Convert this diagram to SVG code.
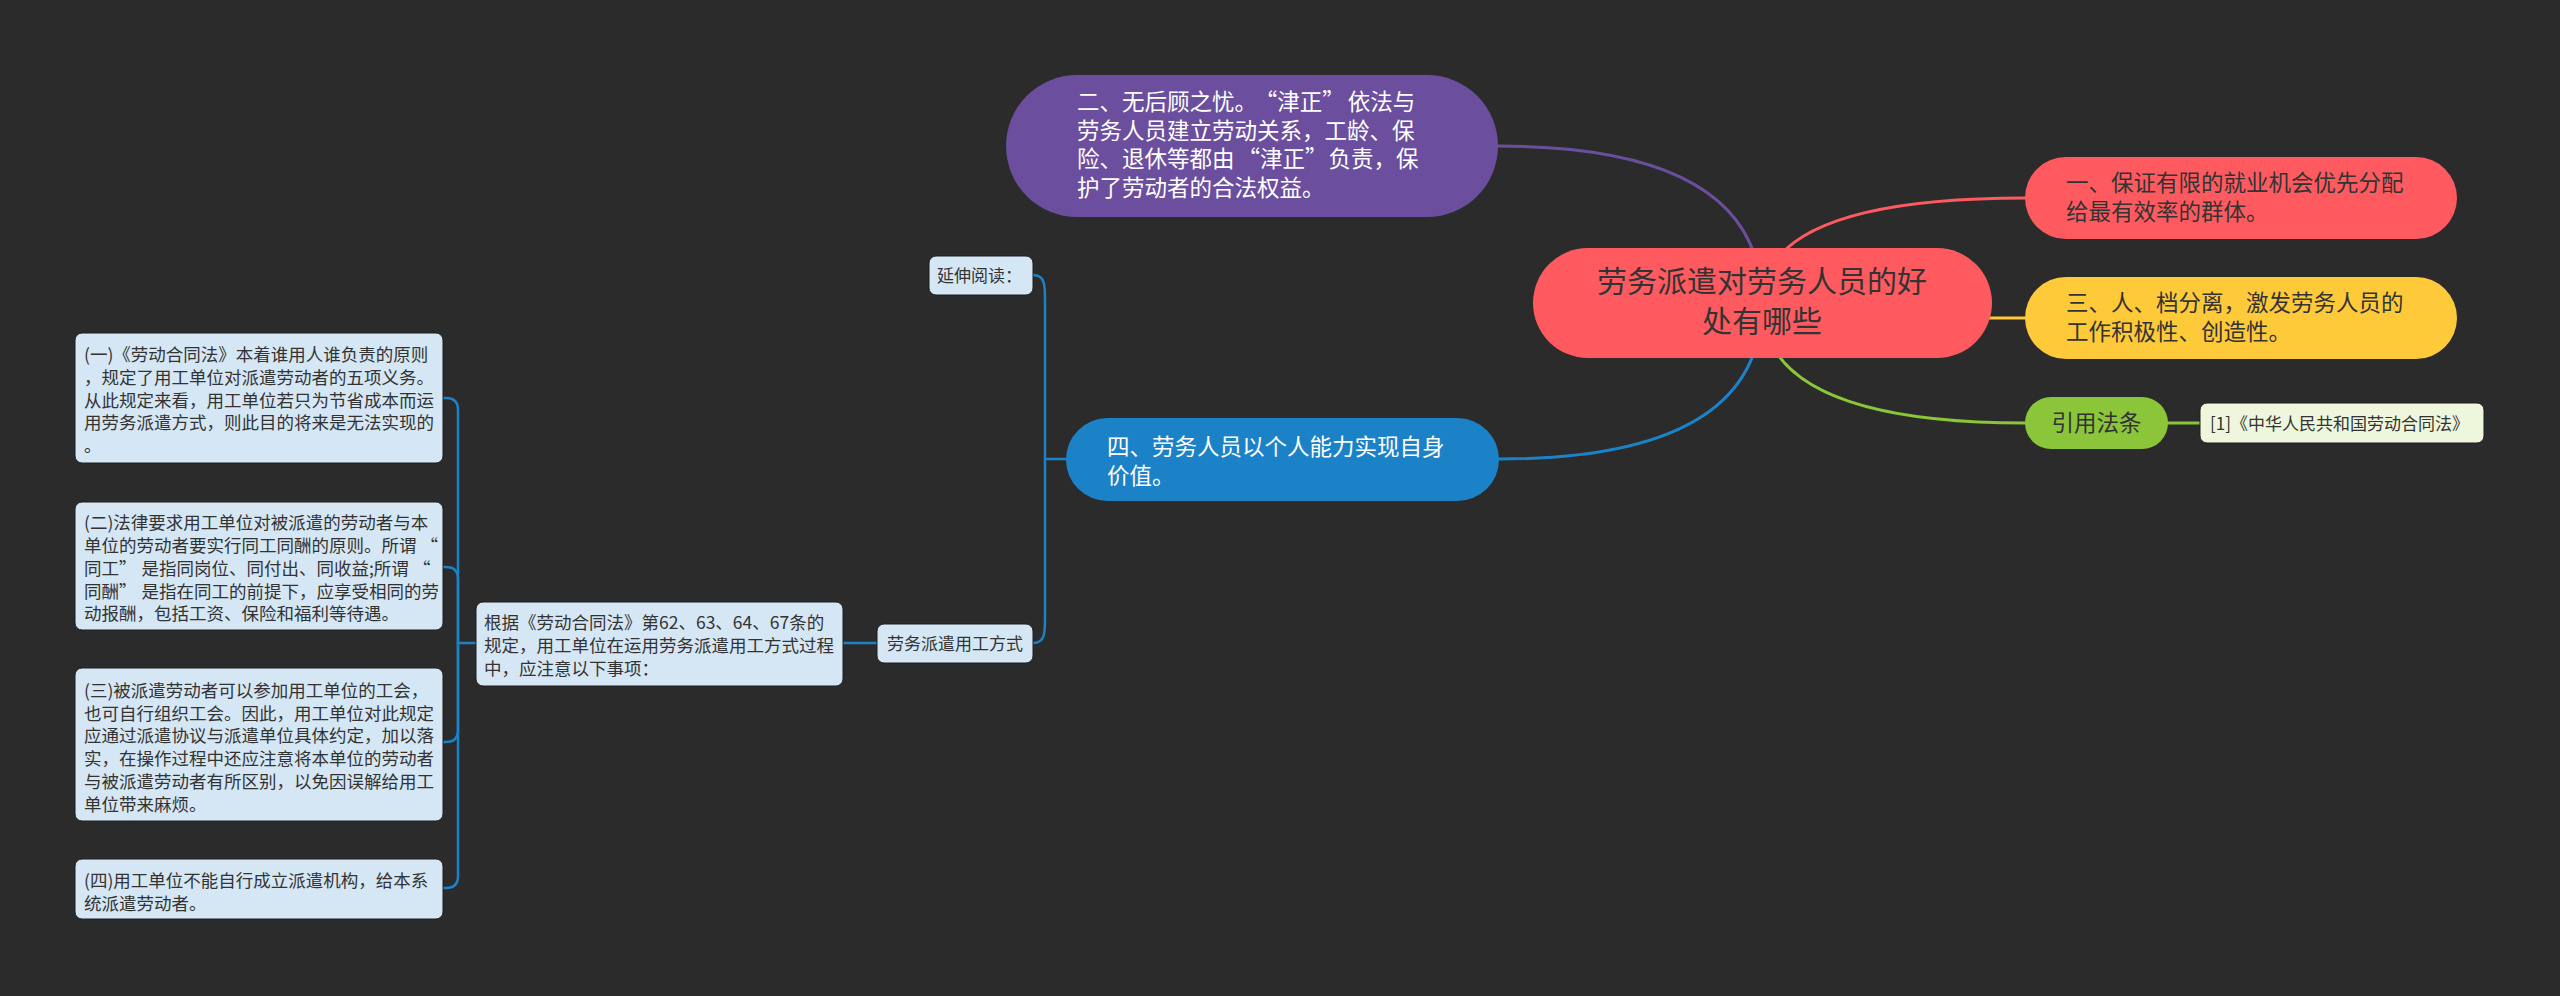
<svg xmlns="http://www.w3.org/2000/svg" width="2560" height="996" viewBox="0 0 2560 996">
<style>
.t{font-family:"Noto Sans CJK SC","Liberation Sans",sans-serif;}
.main{font-size:22.5px;}
.sub{font-size:17.5px;fill:#333333;}
.dark{fill:#333333;}
.white{fill:#ffffff;}
.lb{fill:#d5e7f4;stroke:#1e1e1e;stroke-width:1;}
.c{fill:none;stroke-width:3;stroke-linecap:round;}
.c2{fill:none;stroke-width:2.5;stroke-linecap:round;}
</style>
<rect x="0" y="0" width="2560" height="996" fill="#2b2b2b"/>
<g id="connectors">
  <path class="c" stroke="#6b4f9e" d="M1762 303 Q1762 146 1498 146"/>
  <path class="c" stroke="#ff5a5f" d="M1762 303 Q1762 198 2025 198"/>
  <path class="c" stroke="#ffca3a" d="M1762 303 Q1762 318 2025 318"/>
  <path class="c" stroke="#8ac53a" d="M1762 303 Q1762 423 2025 423"/>
  <path class="c" stroke="#1c82c7" d="M1762 303 Q1762 459 1499 459"/>
  <path class="c" stroke="#8ac53a" d="M2168 423 L2200 423"/>
  <path class="c2" stroke="#1c82c7" d="M1066 459 L1045 459"/>
  <path class="c2" stroke="#1c82c7" d="M1045 459 L1045 300 C1045 285 1045 275 1033 275"/>
  <path class="c2" stroke="#1c82c7" d="M1045 459 L1045 618 C1045 633 1045 643 1033 643"/>
  <path class="c2" stroke="#1c82c7" d="M877 643 L843 643"/>
  <path class="c2" stroke="#1c82c7" d="M476 643 L458 643"/>
  <path class="c2" stroke="#1c82c7" d="M458 643 L458 410 Q458 398 446 398 L443 398"/>
  <path class="c2" stroke="#1c82c7" d="M458 643 L458 579 Q458 567 446 567 L443 567"/>
  <path class="c2" stroke="#1c82c7" d="M458 643 L458 730 Q458 742 446 742 L443 742"/>
  <path class="c2" stroke="#1c82c7" d="M458 643 L458 876 Q458 888 446 888 L443 888"/>
</g>
<g id="root">
  <rect x="1533" y="248" width="459" height="110" rx="55" fill="#ff5a5f"/>
  <text class="t dark" font-size="30" text-anchor="middle"><tspan x="1762" y="292">劳务派遣对劳务人员的好</tspan><tspan x="1762" y="332">处有哪些</tspan></text>
</g>
<g id="n-er">
  <rect x="1006" y="75" width="492" height="142" rx="71" fill="#6b4f9e"/>
  <text class="t main white"><tspan x="1077" y="110">二、无后顾之忧。<tspan dx="9">“津正”</tspan><tspan dx="3">依法与</tspan></tspan><tspan x="1077" y="139">劳务人员建立劳动关系，工龄、保</tspan><tspan x="1077" y="167">险、退休等都由<tspan dx="3">“津正”</tspan><tspan dx="1">负责，保</tspan></tspan><tspan x="1077" y="196">护了劳动者的合法权益。</tspan></text>
</g>
<g id="n-yi">
  <rect x="2025" y="157" width="432" height="82" rx="41" fill="#ff5a5f"/>
  <text class="t main dark"><tspan x="2066" y="191">一、保证有限的就业机会优先分配</tspan><tspan x="2066" y="220">给最有效率的群体。</tspan></text>
</g>
<g id="n-san">
  <rect x="2025" y="277" width="432" height="82" rx="41" fill="#ffca3a"/>
  <text class="t main dark"><tspan x="2066" y="311">三、人、档分离，激发劳务人员的</tspan><tspan x="2066" y="340">工作积极性、创造性。</tspan></text>
</g>
<g id="n-law">
  <rect x="2025" y="397" width="143" height="52" rx="26" fill="#8ac53a"/>
  <text class="t main dark" x="2096.5" y="431" text-anchor="middle">引用法条</text>
</g>
<g id="n-law-ref">
  <rect x="2200" y="403" width="284" height="40" rx="7" fill="#eef6dc" stroke="#1e1e1e" stroke-width="1"/>
  <text class="t dark" font-size="17" x="2210" y="430">[1]《中华人民共和国劳动合同法》</text>
</g>
<g id="n-si">
  <rect x="1066" y="418" width="433" height="83" rx="41.5" fill="#1c82c7"/>
  <text class="t main white"><tspan x="1107" y="455">四、劳务人员以个人能力实现自身</tspan><tspan x="1107" y="484">价值。</tspan></text>
</g>
<g id="n-yanshen">
  <rect class="lb" x="929" y="256" width="104" height="39" rx="7"/>
  <text class="t" font-size="17" fill="#333333" x="937" y="282">延伸阅读：</text>
</g>
<g id="n-fangshi">
  <rect class="lb" x="877" y="624" width="156" height="39" rx="7"/>
  <text class="t" font-size="17" fill="#333333" x="955" y="650" text-anchor="middle">劳务派遣用工方式</text>
</g>
<g id="n-genju">
  <rect class="lb" x="476" y="602" width="367" height="84" rx="7"/>
  <text class="t sub"><tspan x="484" y="629">根据《劳动合同法》第62、63、64、67条的</tspan><tspan x="484" y="652">规定，用工单位在运用劳务派遣用工方式过程</tspan><tspan x="484" y="675">中，应注意以下事项：</tspan></text>
</g>
<g id="n-item1">
  <rect class="lb" x="75" y="333" width="368" height="130" rx="7"/>
  <text class="t sub"><tspan x="84" y="361">(一)《劳动合同法》本着谁用人谁负责的原则</tspan><tspan x="84" y="384">，规定了用工单位对派遣劳动者的五项义务。</tspan><tspan x="84" y="407">从此规定来看，用工单位若只为节省成本而运</tspan><tspan x="84" y="429">用劳务派遣方式，则此目的将来是无法实现的</tspan><tspan x="84" y="452">。</tspan></text>
</g>
<g id="n-item2">
  <rect class="lb" x="75" y="502" width="368" height="128" rx="7"/>
  <text class="t sub"><tspan x="84" y="529">(二)法律要求用工单位对被派遣的劳动者与本</tspan><tspan x="84" y="552">单位的劳动者要实行同工同酬的原则。所谓<tspan dx="4">“</tspan></tspan><tspan x="84" y="575">同工”<tspan dx="5">是指同岗位、同付出、同收益;所谓</tspan><tspan dx="4">“</tspan></tspan><tspan x="84" y="598">同酬”<tspan dx="5">是指在同工的前提下，应享受相同的劳</tspan></tspan><tspan x="84" y="620">动报酬，包括工资、保险和福利等待遇。</tspan></text>
</g>
<g id="n-item3">
  <rect class="lb" x="75" y="668" width="368" height="153" rx="7"/>
  <text class="t sub"><tspan x="84" y="697">(三)被派遣劳动者可以参加用工单位的工会，</tspan><tspan x="84" y="720">也可自行组织工会。因此，用工单位对此规定</tspan><tspan x="84" y="742">应通过派遣协议与派遣单位具体约定，加以落</tspan><tspan x="84" y="765">实，在操作过程中还应注意将本单位的劳动者</tspan><tspan x="84" y="788">与被派遣劳动者有所区别，以免因误解给用工</tspan><tspan x="84" y="811">单位带来麻烦。</tspan></text>
</g>
<g id="n-item4">
  <rect class="lb" x="75" y="859" width="368" height="60" rx="7"/>
  <text class="t sub"><tspan x="84" y="887">(四)用工单位不能自行成立派遣机构，给本系</tspan><tspan x="84" y="910">统派遣劳动者。</tspan></text>
</g>
</svg>
